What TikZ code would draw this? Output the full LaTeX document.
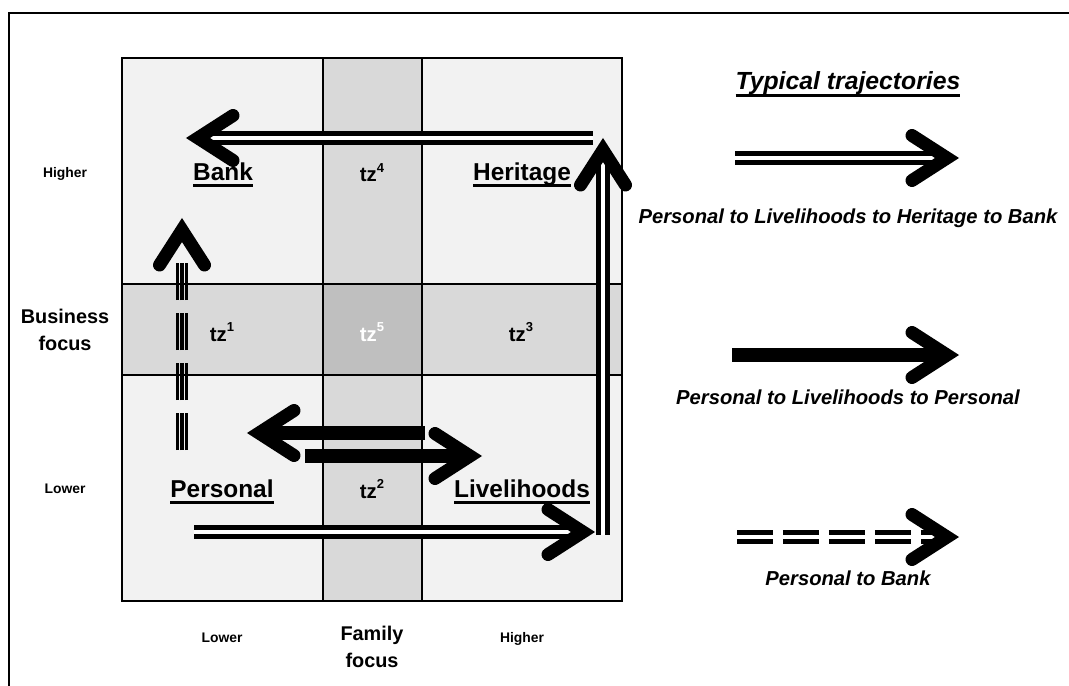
\documentclass[tikz,border=0pt]{standalone}
\usepackage{fontspec}
\setmainfont{Liberation Sans}
\usetikzlibrary{positioning}
\definecolor{cellpale}{HTML}{F2F2F2}
\definecolor{cellmid}{HTML}{D9D9D9}
\definecolor{celldark}{HTML}{BFBFBF}
\newsavebox\ulbox
\newcommand{\ulab}[1]{\sbox\ulbox{#1}\rlap{\rule[-0.30em]{\wd\ulbox}{0.14em}}\usebox\ulbox}
\newcommand{\tzl}[1]{tz\raisebox{5.3pt}{\fontsize{7.4}{8}\selectfont #1}}

\begin{document}
\begin{tikzpicture}[
  x=0.02cm, y=-0.02cm,
  axislbl/.style={font=\fontsize{7.9}{9}\selectfont\bfseries, anchor=base},
  focus/.style={font=\fontsize{11.3}{15.4}\selectfont\bfseries, align=center},
  zone/.style={font=\fontsize{13.9}{16}\selectfont\bfseries, anchor=base},
  tz/.style={font=\fontsize{11.6}{13}\selectfont\bfseries, anchor=base},
  trajlabel/.style={font=\fontsize{11.5}{14}\selectfont\bfseries\itshape, anchor=base},
  gridline/.style={line width=0.04cm},
  dbl/.style={line width=0.1cm, double distance=0.065cm, double=white},
  fat/.style={line width=0.27cm},
  triple/.style={line width=0.07cm, dash pattern=on 0.74cm off 0.26cm},
  chev/.pic={\draw[line width=0.26cm, line cap=round, line join=miter] (-0.7cm,0.45cm) -- (0,0) -- (-0.7cm,-0.45cm);}
]
\useasboundingbox (0,0) rectangle (1069,686);
\draw[gridline] (9,686) -- (9,13) -- (1069,13);

\fill[cellpale] (122,58) rectangle (622,601);
\fill[cellmid] (323,58) rectangle (422,601);
\fill[cellmid] (122,284) rectangle (622,375);
\fill[celldark] (323,284) rectangle (422,375);
\draw[gridline] (122,58) rectangle (622,601)
  (323,58) -- (323,601) (422,58) -- (422,601)
  (122,284) -- (622,284) (122,375) -- (622,375);

\node[axislbl] (yhi) at (65,177) {Higher};
\node[focus] (yfoc) at (65,330) {Business\\focus};
\node[axislbl] (ylo) at (65,493) {Lower};
\node[axislbl] (xlo) at (222,642) {Lower};
\node[focus] (xfoc) at (372,647) {Family\\focus};
\node[axislbl] (xhi) at (522,642) {Higher};

\node[zone] (bank) at (223,180) {\ulab{Bank}};
\node[tz] (tz4) at (372,182) {\tzl{4}};
\node[zone] (heritage) at (522,180) {\ulab{Heritage}};
\node[tz] (tz1) at (222,341) {\tzl{1}};
\node[tz, text=white] (tz5) at (372,341) {\tzl{5}};
\node[tz] (tz3) at (521,341) {\tzl{3}};
\node[zone] (personal) at (222,497) {\ulab{Personal}};
\node[tz] (tz2) at (372,498) {\tzl{2}};
\node[zone] (livelihoods) at (522,497) {\ulab{Livelihoods}};

\coordinate (a1s) at (194,532); \coordinate (a1e) at (583,532);
\coordinate (a2s) at (603,535); \coordinate (a2e) at (603,150);
\coordinate (a3s) at (593,138); \coordinate (a3e) at (198,138);
\coordinate (a4s) at (182,450); \coordinate (a4e) at (182,263);
\coordinate (a4t) at (182,230);
\coordinate (a5s) at (425,433); \coordinate (a5e) at (259,433);
\coordinate (a6s) at (305,456); \coordinate (a6e) at (470,456);

\draw[dbl] (a1s) -- (a1e);
\draw[dbl] (a2s) -- (a2e);
\draw[dbl] (a3s) -- (a3e);
\foreach \dx in {-4.5,0,4.5}
  \draw[triple] ([xshift=\dx*0.02cm]a4s) -- ([xshift=\dx*0.02cm]a4e);
\draw[fat] (a5s) -- (a5e);
\draw[fat] (a6s) -- (a6e);
\pic at (a1e) {chev};
\pic[rotate=90] at (a2e) {chev};
\pic[rotate=180] at (a3e) {chev};
\pic[rotate=90] at (a4t) {chev};
\pic[rotate=180] at (a5e) {chev};
\pic at (a6e) {chev};

\node[font=\fontsize{14.1}{17}\selectfont\bfseries\itshape, anchor=base] (title) at (848,90) {\ulab{Typical trajectories}};
\coordinate (l1s) at (735,158); \coordinate (l1e) at (947,158);
\coordinate (l2s) at (732,355); \coordinate (l2e) at (947,355);
\coordinate (l3s) at (737,537); \coordinate (l3e) at (947,537);
\draw[dbl] (l1s) -- (l1e);
\draw[fat] (l2s) -- (l2e);
\draw[dbl, dash pattern=on 0.72cm off 0.2cm] (l3s) -- (l3e);
\pic at (l1e) {chev};
\pic at (l2e) {chev};
\pic at (l3e) {chev};
\node[trajlabel] (lab1) at (848,223) {Personal to Livelihoods to Heritage to Bank};
\node[trajlabel] (lab2) at (848,404) {Personal to Livelihoods to Personal};
\node[trajlabel] (lab3) at (848,585) {Personal to Bank};
\end{tikzpicture}
\end{document}
